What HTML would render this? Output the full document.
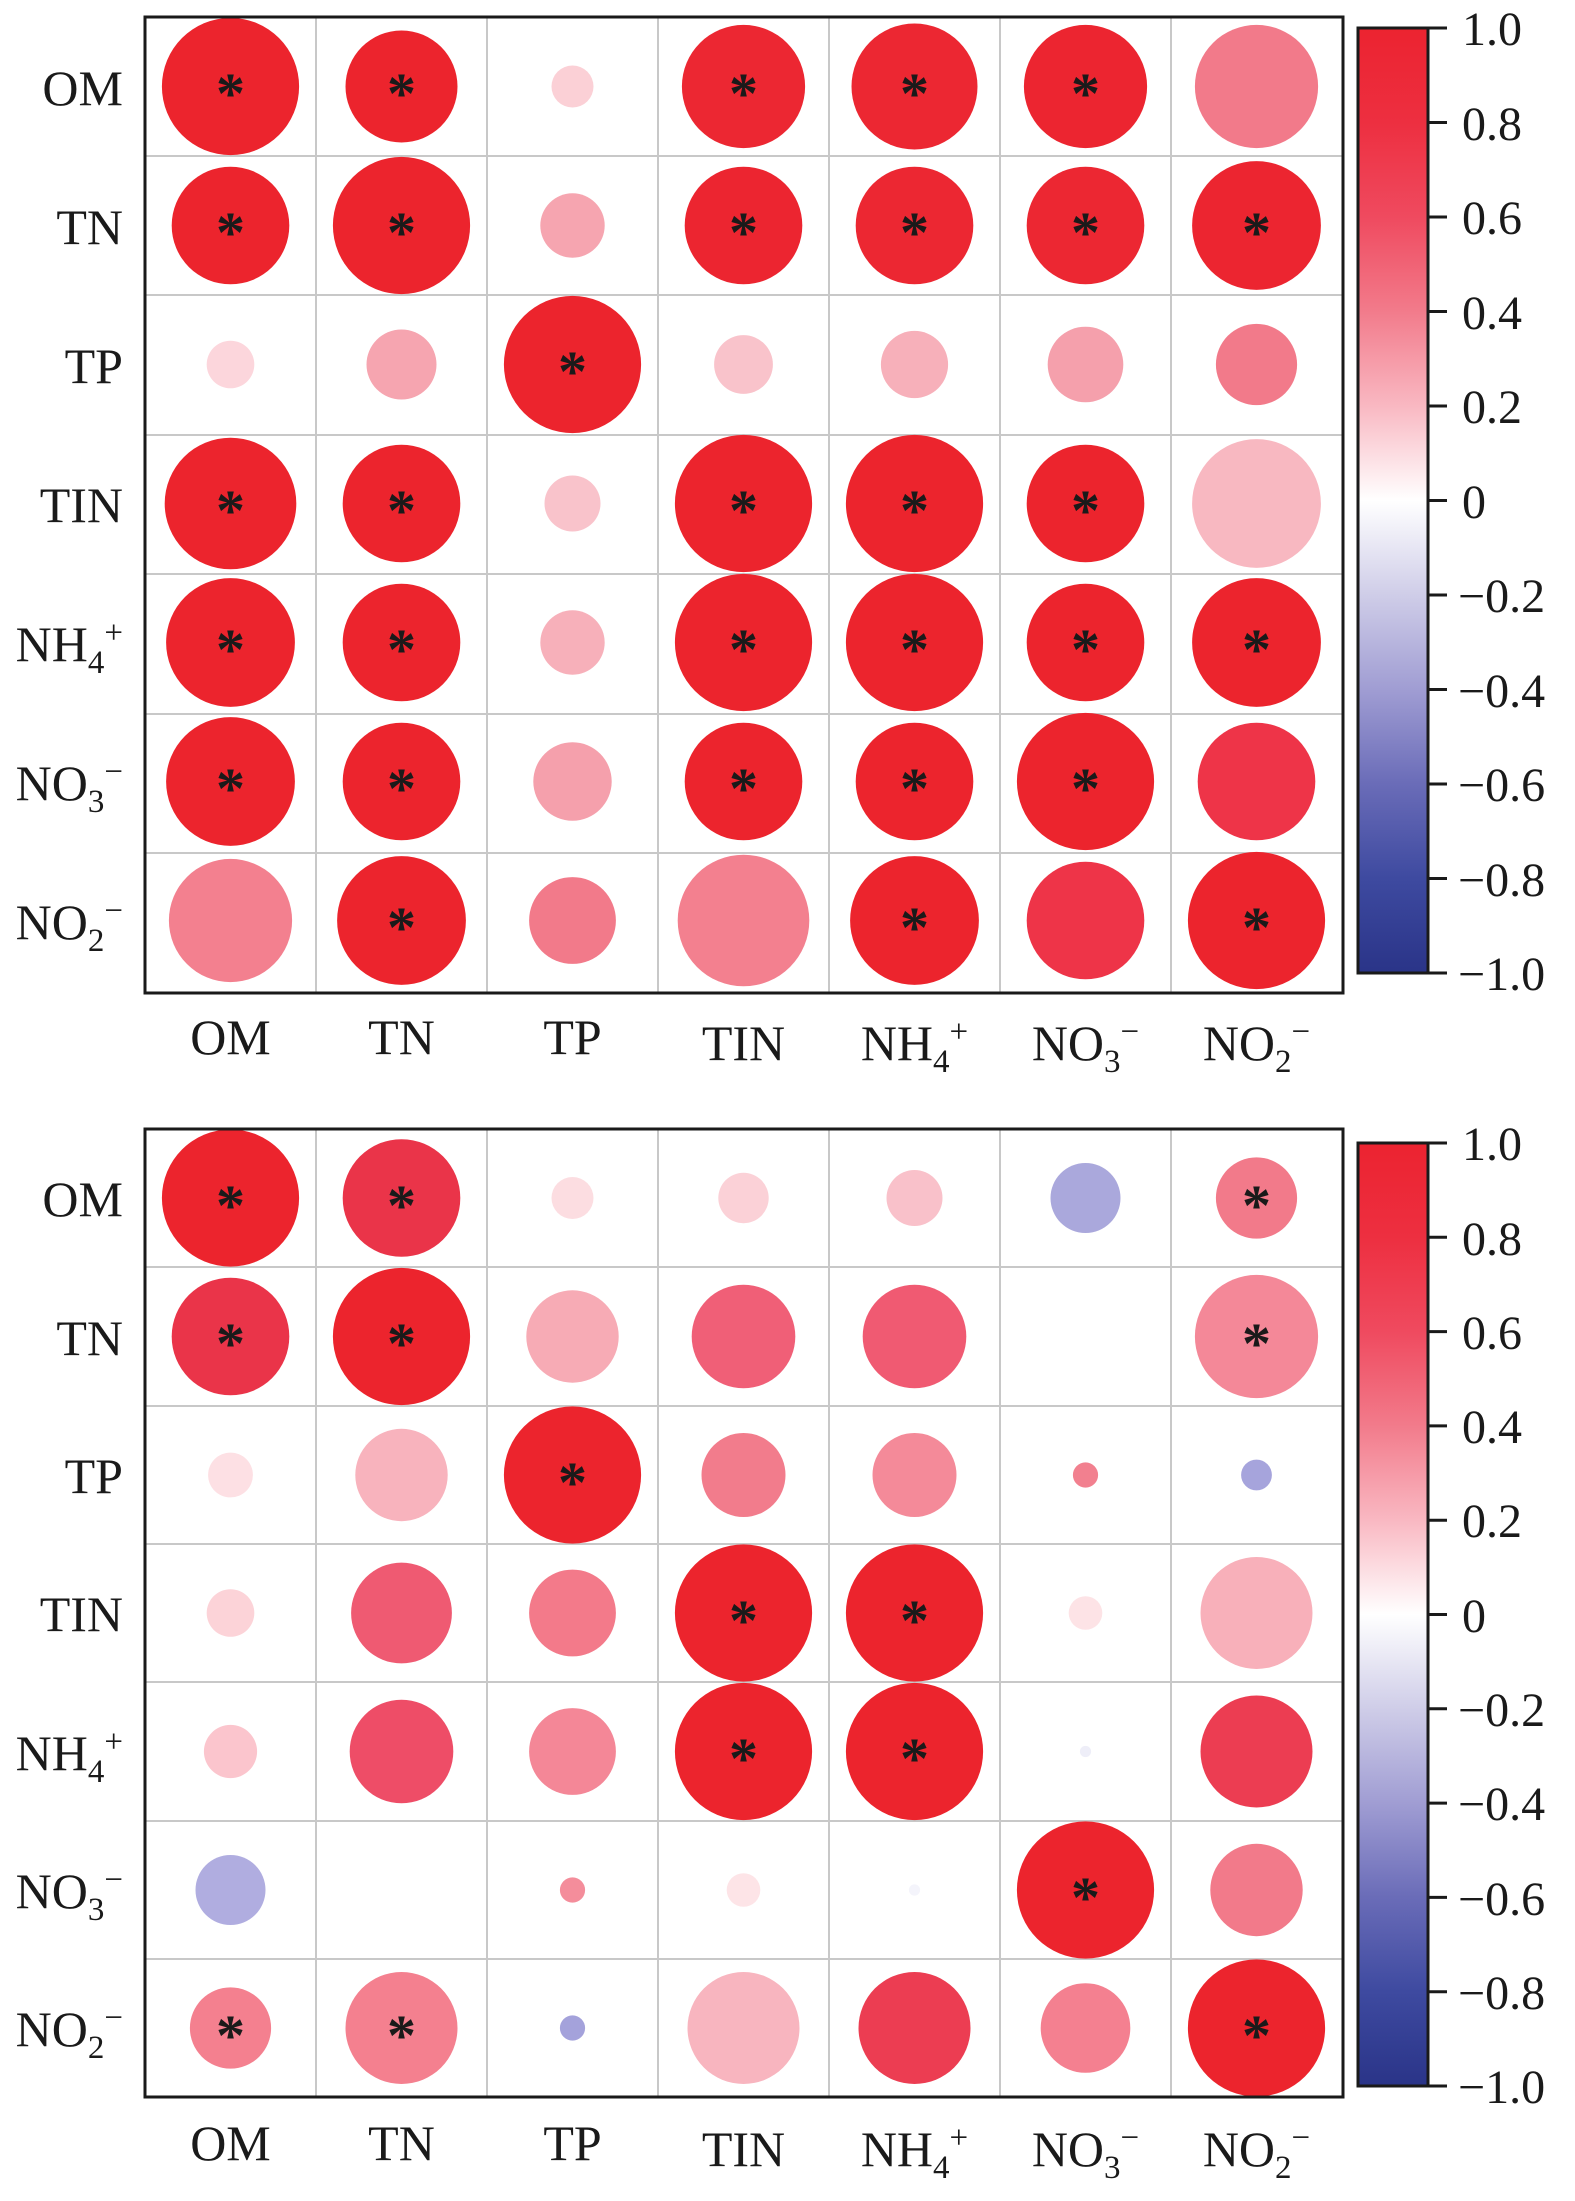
<!DOCTYPE html>
<html><head><meta charset="utf-8"><style>
html,body{margin:0;padding:0;background:#fff;}
svg{display:block;}
svg text{font-family:"Liberation Serif","Times New Roman",Times,serif;fill:#1a1a1a;}
</style></head><body>
<svg width="1575" height="2201" viewBox="0 0 1575 2201" xmlns="http://www.w3.org/2000/svg" font-family="Liberation Serif, Times New Roman, serif">
<defs>
<linearGradient id="cb" x1="0" y1="0" x2="0" y2="1">
<stop offset="0" stop-color="#ec2330"/>
<stop offset="0.1" stop-color="#ed2f40"/>
<stop offset="0.2" stop-color="#ef4a5f"/>
<stop offset="0.3" stop-color="#f27b8b"/>
<stop offset="0.4" stop-color="#f9b8c2"/>
<stop offset="0.5" stop-color="#ffffff"/>
<stop offset="0.6" stop-color="#cfcde8"/>
<stop offset="0.7" stop-color="#a09dd3"/>
<stop offset="0.8" stop-color="#6a6cb8"/>
<stop offset="0.9" stop-color="#3e4aa0"/>
<stop offset="1" stop-color="#2a3488"/>
</linearGradient>
</defs>

<!-- ===== TOP PANEL ===== -->
<g stroke="#c8c8c8" stroke-width="2">
<line x1="316" y1="17" x2="316" y2="993"/><line x1="487" y1="17" x2="487" y2="993"/><line x1="658" y1="17" x2="658" y2="993"/><line x1="829" y1="17" x2="829" y2="993"/><line x1="1000" y1="17" x2="1000" y2="993"/><line x1="1171" y1="17" x2="1171" y2="993"/>
<line x1="145" y1="156" x2="1343" y2="156"/><line x1="145" y1="295" x2="1343" y2="295"/><line x1="145" y1="435" x2="1343" y2="435"/><line x1="145" y1="574" x2="1343" y2="574"/><line x1="145" y1="714" x2="1343" y2="714"/><line x1="145" y1="853" x2="1343" y2="853"/>
</g>
<g>
<circle cx="230.5" cy="86.5" r="68.6" fill="#ec242d"/><circle cx="401.5" cy="86.5" r="56" fill="#ec242d"/><circle cx="572.5" cy="86.5" r="21" fill="#fbd0d6"/><circle cx="743.5" cy="86.5" r="61.6" fill="#ec2732"/><circle cx="914.5" cy="86.5" r="63" fill="#ec2732"/><circle cx="1085.5" cy="86.5" r="61.6" fill="#ec2530"/><circle cx="1256.5" cy="86.5" r="61.6" fill="#f27a8a"/>
<circle cx="230.5" cy="225.5" r="58.8" fill="#ec242d"/><circle cx="401.5" cy="225.5" r="68.6" fill="#ec242d"/><circle cx="572.5" cy="225.5" r="32.2" fill="#f6a5b0"/><circle cx="743.5" cy="225.5" r="58.8" fill="#ec2530"/><circle cx="914.5" cy="225.5" r="58.8" fill="#ec2732"/><circle cx="1085.5" cy="225.5" r="58.8" fill="#ec2732"/><circle cx="1256.5" cy="225.5" r="64.4" fill="#ec2530"/>
<circle cx="230.5" cy="364.5" r="23.8" fill="#fcd6dc"/><circle cx="401.5" cy="364.5" r="35" fill="#f6a5b0"/><circle cx="572.5" cy="364.5" r="68.6" fill="#ec242d"/><circle cx="743.5" cy="364.5" r="29.4" fill="#f9c3cb"/><circle cx="914.5" cy="364.5" r="33.6" fill="#f7b0ba"/><circle cx="1085.5" cy="364.5" r="37.8" fill="#f5a0ac"/><circle cx="1256.5" cy="364.5" r="40.6" fill="#f27a8a"/>
<circle cx="230.5" cy="503.5" r="65.8" fill="#ec242d"/><circle cx="401.5" cy="503.5" r="58.8" fill="#ec242d"/><circle cx="572.5" cy="503.5" r="28" fill="#f9c3cb"/><circle cx="743.5" cy="503.5" r="68.6" fill="#ec242d"/><circle cx="914.5" cy="503.5" r="68.6" fill="#ec242d"/><circle cx="1085.5" cy="503.5" r="58.8" fill="#ec242d"/><circle cx="1256.5" cy="503.5" r="64.4" fill="#f8b8c1"/>
<circle cx="230.5" cy="642.5" r="64.4" fill="#ec242d"/><circle cx="401.5" cy="642.5" r="58.8" fill="#ec242d"/><circle cx="572.5" cy="642.5" r="32.2" fill="#f7b0ba"/><circle cx="743.5" cy="642.5" r="68.6" fill="#ec242d"/><circle cx="914.5" cy="642.5" r="68.6" fill="#ec242d"/><circle cx="1085.5" cy="642.5" r="58.8" fill="#ec242d"/><circle cx="1256.5" cy="642.5" r="64.4" fill="#ec242d"/>
<circle cx="230.5" cy="781.5" r="64.4" fill="#ec242d"/><circle cx="401.5" cy="781.5" r="58.8" fill="#ec242d"/><circle cx="572.5" cy="781.5" r="39.2" fill="#f5a0ac"/><circle cx="743.5" cy="781.5" r="58.8" fill="#ec242d"/><circle cx="914.5" cy="781.5" r="58.8" fill="#ec242d"/><circle cx="1085.5" cy="781.5" r="68.6" fill="#ec242d"/><circle cx="1256.5" cy="781.5" r="58.8" fill="#ee3448"/>
<circle cx="230.5" cy="920.5" r="61.6" fill="#f3808f"/><circle cx="401.5" cy="920.5" r="64.4" fill="#ec242d"/><circle cx="572.5" cy="920.5" r="43.4" fill="#f27a8a"/><circle cx="743.5" cy="920.5" r="65.8" fill="#f3808f"/><circle cx="914.5" cy="920.5" r="64.4" fill="#ec242d"/><circle cx="1085.5" cy="920.5" r="58.8" fill="#ee3448"/><circle cx="1256.5" cy="920.5" r="68.6" fill="#ec242d"/>
</g>
<g font-size="58" text-anchor="middle" font-weight="bold">
<text x="230.5" y="113">*</text><text x="401.5" y="113">*</text><text x="743.5" y="113">*</text><text x="914.5" y="113">*</text><text x="1085.5" y="113">*</text>
<text x="230.5" y="252">*</text><text x="401.5" y="252">*</text><text x="743.5" y="252">*</text><text x="914.5" y="252">*</text><text x="1085.5" y="252">*</text><text x="1256.5" y="252">*</text>
<text x="572.5" y="391">*</text>
<text x="230.5" y="530">*</text><text x="401.5" y="530">*</text><text x="743.5" y="530">*</text><text x="914.5" y="530">*</text><text x="1085.5" y="530">*</text>
<text x="230.5" y="669">*</text><text x="401.5" y="669">*</text><text x="743.5" y="669">*</text><text x="914.5" y="669">*</text><text x="1085.5" y="669">*</text><text x="1256.5" y="669">*</text>
<text x="230.5" y="808">*</text><text x="401.5" y="808">*</text><text x="743.5" y="808">*</text><text x="914.5" y="808">*</text><text x="1085.5" y="808">*</text>
<text x="401.5" y="947">*</text><text x="914.5" y="947">*</text><text x="1256.5" y="947">*</text>
</g>
<rect x="145" y="17" width="1198" height="976" fill="none" stroke="#1a1a1a" stroke-width="3"/>
<g font-size="50" text-anchor="end">
<text x="123" y="105">OM</text><text x="123" y="244">TN</text><text x="123" y="383">TP</text><text x="123" y="522">TIN</text>
<text x="123" y="661">NH<tspan font-size="33" dy="12">4</tspan><tspan font-size="33" dy="-30">+</tspan></text>
<text x="123" y="800">NO<tspan font-size="33" dy="12">3</tspan><tspan font-size="33" dy="-30">−</tspan></text>
<text x="123" y="939">NO<tspan font-size="33" dy="12">2</tspan><tspan font-size="33" dy="-30">−</tspan></text>
</g>
<g font-size="50" text-anchor="middle">
<text x="230.5" y="1054">OM</text><text x="401.5" y="1054">TN</text><text x="572.5" y="1054">TP</text><text x="743.5" y="1060">TIN</text>
<text x="914.5" y="1060">NH<tspan font-size="33" dy="12">4</tspan><tspan font-size="33" dy="-30">+</tspan></text>
<text x="1085.5" y="1060">NO<tspan font-size="33" dy="12">3</tspan><tspan font-size="33" dy="-30">−</tspan></text>
<text x="1256.5" y="1060">NO<tspan font-size="33" dy="12">2</tspan><tspan font-size="33" dy="-30">−</tspan></text>
</g>
<rect x="1358" y="28" width="70" height="945" fill="url(#cb)" stroke="#1a1a1a" stroke-width="3"/>
<g stroke="#1a1a1a" stroke-width="3">
<line x1="1428" y1="28" x2="1447" y2="28"/><line x1="1428" y1="122.5" x2="1447" y2="122.5"/><line x1="1428" y1="217" x2="1447" y2="217"/><line x1="1428" y1="311.5" x2="1447" y2="311.5"/><line x1="1428" y1="406" x2="1447" y2="406"/><line x1="1428" y1="500.5" x2="1447" y2="500.5"/><line x1="1428" y1="595" x2="1447" y2="595"/><line x1="1428" y1="689.5" x2="1447" y2="689.5"/><line x1="1428" y1="784" x2="1447" y2="784"/><line x1="1428" y1="878.5" x2="1447" y2="878.5"/><line x1="1428" y1="973" x2="1447" y2="973"/>
</g>
<g font-size="48">
<text x="1462" y="45">1.0</text><text x="1462" y="140">0.8</text><text x="1462" y="234">0.6</text><text x="1462" y="329">0.4</text><text x="1462" y="423">0.2</text><text x="1462" y="518">0</text><text x="1458" y="612">−0.2</text><text x="1458" y="707">−0.4</text><text x="1458" y="801">−0.6</text><text x="1458" y="896">−0.8</text><text x="1458" y="990">−1.0</text>
</g>

<!-- ===== BOTTOM PANEL ===== -->
<g stroke="#c8c8c8" stroke-width="2">
<line x1="316" y1="1129" x2="316" y2="2097"/><line x1="487" y1="1129" x2="487" y2="2097"/><line x1="658" y1="1129" x2="658" y2="2097"/><line x1="829" y1="1129" x2="829" y2="2097"/><line x1="1000" y1="1129" x2="1000" y2="2097"/><line x1="1171" y1="1129" x2="1171" y2="2097"/>
<line x1="145" y1="1267" x2="1343" y2="1267"/><line x1="145" y1="1406" x2="1343" y2="1406"/><line x1="145" y1="1544" x2="1343" y2="1544"/><line x1="145" y1="1682" x2="1343" y2="1682"/><line x1="145" y1="1821" x2="1343" y2="1821"/><line x1="145" y1="1959" x2="1343" y2="1959"/>
</g>
<g>
<circle cx="230.5" cy="1198" r="68.6" fill="#ec242d"/><circle cx="401.5" cy="1198" r="58.8" fill="#ea3449"/><circle cx="572.5" cy="1198" r="21" fill="#fcdde1"/><circle cx="743.5" cy="1198" r="25.2" fill="#fbd1d7"/><circle cx="914.5" cy="1198" r="28" fill="#f9c1ca"/><circle cx="1085.5" cy="1198" r="35" fill="#aaa8dc"/><circle cx="1256.5" cy="1198" r="40.6" fill="#f27a8a"/>
<circle cx="230.5" cy="1336.5" r="58.8" fill="#ea3449"/><circle cx="401.5" cy="1336.5" r="68.6" fill="#ec242d"/><circle cx="572.5" cy="1336.5" r="46.2" fill="#f7abb5"/><circle cx="743.5" cy="1336.5" r="51.8" fill="#f05f77"/><circle cx="914.5" cy="1336.5" r="51.8" fill="#f05a72"/><circle cx="1256.5" cy="1336.5" r="61.6" fill="#f48898"/>
<circle cx="230.5" cy="1475" r="22.4" fill="#fde0e4"/><circle cx="401.5" cy="1475" r="46.2" fill="#f8b3bd"/><circle cx="572.5" cy="1475" r="68.6" fill="#ec242d"/><circle cx="743.5" cy="1475" r="42" fill="#f27c8c"/><circle cx="914.5" cy="1475" r="42" fill="#f48a99"/><circle cx="1085.5" cy="1475" r="12.6" fill="#f2808f"/><circle cx="1256.5" cy="1475" r="15.4" fill="#a6a4dc"/>
<circle cx="230.5" cy="1613" r="23.8" fill="#fcd3d8"/><circle cx="401.5" cy="1613" r="50.4" fill="#ef5a72"/><circle cx="572.5" cy="1613" r="43.4" fill="#f37a8a"/><circle cx="743.5" cy="1613" r="68.6" fill="#ec242d"/><circle cx="914.5" cy="1613" r="68.6" fill="#ec242d"/><circle cx="1085.5" cy="1613" r="16.8" fill="#fde3e6"/><circle cx="1256.5" cy="1613" r="56" fill="#f8b0ba"/>
<circle cx="230.5" cy="1751.5" r="26.6" fill="#fbc5cd"/><circle cx="401.5" cy="1751.5" r="51.8" fill="#ee4d67"/><circle cx="572.5" cy="1751.5" r="43.4" fill="#f48797"/><circle cx="743.5" cy="1751.5" r="68.6" fill="#ec242d"/><circle cx="914.5" cy="1751.5" r="68.6" fill="#ec242d"/><circle cx="1085.5" cy="1751.5" r="5.6" fill="#eeeef8"/><circle cx="1256.5" cy="1751.5" r="56" fill="#ec3d52"/>
<circle cx="230.5" cy="1890" r="35" fill="#b0ade0"/><circle cx="572.5" cy="1890" r="12.6" fill="#f48d9b"/><circle cx="743.5" cy="1890" r="16.8" fill="#fde4e7"/><circle cx="914.5" cy="1890" r="5.6" fill="#f4f4fb"/><circle cx="1085.5" cy="1890" r="68.6" fill="#ec242d"/><circle cx="1256.5" cy="1890" r="46.2" fill="#f27a8a"/>
<circle cx="230.5" cy="2028" r="40.6" fill="#f4808f"/><circle cx="401.5" cy="2028" r="56" fill="#f4808f"/><circle cx="572.5" cy="2028" r="12.6" fill="#a4a2db"/><circle cx="743.5" cy="2028" r="56" fill="#f8b5bf"/><circle cx="914.5" cy="2028" r="56" fill="#ec3d52"/><circle cx="1085.5" cy="2028" r="44.8" fill="#f48090"/><circle cx="1256.5" cy="2028" r="68.6" fill="#ec242d"/>
</g>
<g font-size="58" text-anchor="middle" font-weight="bold">
<text x="230.5" y="1225">*</text><text x="401.5" y="1225">*</text><text x="1256.5" y="1225">*</text>
<text x="230.5" y="1363">*</text><text x="401.5" y="1363">*</text><text x="1256.5" y="1363">*</text>
<text x="572.5" y="1502">*</text>
<text x="743.5" y="1640">*</text><text x="914.5" y="1640">*</text>
<text x="743.5" y="1778">*</text><text x="914.5" y="1778">*</text>
<text x="1085.5" y="1917">*</text>
<text x="230.5" y="2055">*</text><text x="401.5" y="2055">*</text><text x="1256.5" y="2055">*</text>
</g>
<rect x="145" y="1129" width="1198" height="968" fill="none" stroke="#1a1a1a" stroke-width="3"/>
<g font-size="50" text-anchor="end">
<text x="123" y="1216">OM</text><text x="123" y="1355">TN</text><text x="123" y="1493">TP</text><text x="123" y="1631">TIN</text>
<text x="123" y="1770">NH<tspan font-size="33" dy="12">4</tspan><tspan font-size="33" dy="-30">+</tspan></text>
<text x="123" y="1908">NO<tspan font-size="33" dy="12">3</tspan><tspan font-size="33" dy="-30">−</tspan></text>
<text x="123" y="2046">NO<tspan font-size="33" dy="12">2</tspan><tspan font-size="33" dy="-30">−</tspan></text>
</g>
<g font-size="50" text-anchor="middle">
<text x="230.5" y="2160">OM</text><text x="401.5" y="2160">TN</text><text x="572.5" y="2160">TP</text><text x="743.5" y="2166">TIN</text>
<text x="914.5" y="2166">NH<tspan font-size="33" dy="12">4</tspan><tspan font-size="33" dy="-30">+</tspan></text>
<text x="1085.5" y="2166">NO<tspan font-size="33" dy="12">3</tspan><tspan font-size="33" dy="-30">−</tspan></text>
<text x="1256.5" y="2166">NO<tspan font-size="33" dy="12">2</tspan><tspan font-size="33" dy="-30">−</tspan></text>
</g>
<rect x="1358" y="1143" width="70" height="943" fill="url(#cb)" stroke="#1a1a1a" stroke-width="3"/>
<g stroke="#1a1a1a" stroke-width="3">
<line x1="1428" y1="1143" x2="1447" y2="1143"/><line x1="1428" y1="1237.3" x2="1447" y2="1237.3"/><line x1="1428" y1="1331.6" x2="1447" y2="1331.6"/><line x1="1428" y1="1425.9" x2="1447" y2="1425.9"/><line x1="1428" y1="1520.2" x2="1447" y2="1520.2"/><line x1="1428" y1="1614.5" x2="1447" y2="1614.5"/><line x1="1428" y1="1708.8" x2="1447" y2="1708.8"/><line x1="1428" y1="1803.1" x2="1447" y2="1803.1"/><line x1="1428" y1="1897.4" x2="1447" y2="1897.4"/><line x1="1428" y1="1991.7" x2="1447" y2="1991.7"/><line x1="1428" y1="2086" x2="1447" y2="2086"/>
</g>
<g font-size="48">
<text x="1462" y="1160">1.0</text><text x="1462" y="1255">0.8</text><text x="1462" y="1349">0.6</text><text x="1462" y="1443">0.4</text><text x="1462" y="1537">0.2</text><text x="1462" y="1632">0</text><text x="1458" y="1726">−0.2</text><text x="1458" y="1820">−0.4</text><text x="1458" y="1915">−0.6</text><text x="1458" y="2009">−0.8</text><text x="1458" y="2103">−1.0</text>
</g>
</svg>
</body></html>
